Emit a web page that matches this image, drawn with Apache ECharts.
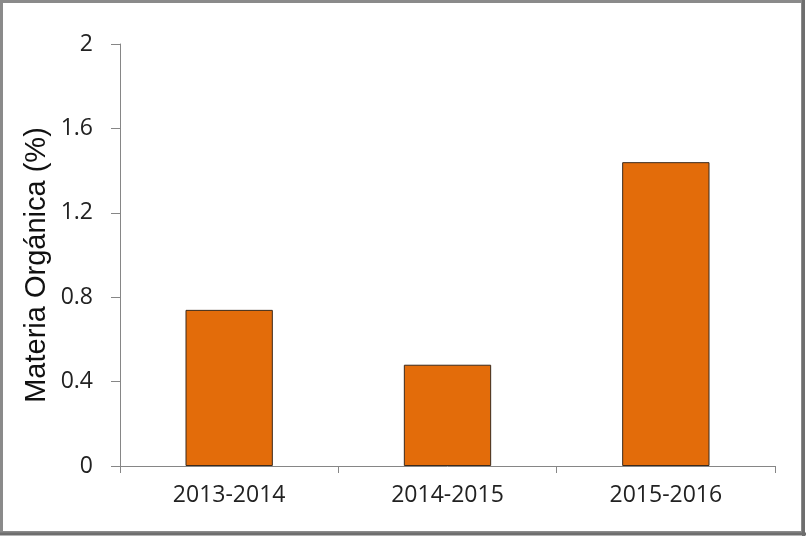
<!DOCTYPE html>
<html>
<head>
<meta charset="utf-8">
<script src="https://cdn.jsdelivr.net/npm/echarts@6/dist/echarts.min.js"></script>
<style>
html,body{margin:0;padding:0;background:#fff;}
#chart{width:806px;height:536px;}
</style>
</head>
<body>
<div id="chart"></div>
<script>
const categories = ['2013-2014', '2014-2015', '2015-2016'];
const values = [0.74, 0.48, 1.44];
const yTicks = [0, 0.4, 0.8, 1.2, 1.6, 2];
const yTitle = 'Materia Orgánica (%)';

const chart = echarts.init(document.getElementById('chart'), null, {renderer: 'canvas'});
chart.setOption({
  animation: false,
  backgroundColor: '#ffffff',
  graphic: [
    {type: 'rect', shape: {x: 1.5, y: 1.5, width: 801, height: 531}, style: {fill: 'none', stroke: '#8a8a8a', lineWidth: 3}, silent: true},
    {type: 'line', shape: {x1: 803.5, y1: 0, x2: 803.5, y2: 536}, style: {stroke: '#6e6e6e', lineWidth: 3}, silent: true},
    {type: 'line', shape: {x1: 0, y1: 534, x2: 806, y2: 534}, style: {stroke: '#6e6e6e', lineWidth: 3}, silent: true},
    {type: 'text', x: 37, y: 265, rotation: Math.PI / 2, silent: true,
     style: {text: yTitle, fontFamily: 'Liberation Sans', fontSize: 29, fill: '#111', align: 'center', verticalAlign: 'middle'}}
  ],
  grid: {left: 120, right: 31, top: 44, bottom: 70, containLabel: false},
  xAxis: {
    type: 'category',
    data: categories,
    axisLine: {lineStyle: {color: '#868686', width: 1}},
    axisTick: {show: true, length: 7, lineStyle: {color: '#868686'}},
    axisLabel: {fontFamily: 'Open Sans', fontSize: 23, color: '#222', margin: 18}
  },
  yAxis: {
    type: 'value',
    min: 0, max: 2, interval: 0.4,
    axisLine: {show: true, lineStyle: {color: '#868686', width: 1}},
    axisTick: {show: true, length: 9, lineStyle: {color: '#868686'}},
    splitLine: {show: false},
    axisLabel: {
      fontFamily: 'Open Sans', fontSize: 23, color: '#222', margin: 27,
      formatter: function (v) {
        const t = yTicks.find(x => Math.abs(x - v) < 1e-9);
        return t === undefined ? '' : String(t);
      }
    }
  },
  series: [{
    type: 'bar',
    data: values,
    barWidth: '40%',
    itemStyle: {color: '#E36C0A', borderColor: '#3b2a1c', borderWidth: 1}
  }]
});
</script>
</body>
</html>
